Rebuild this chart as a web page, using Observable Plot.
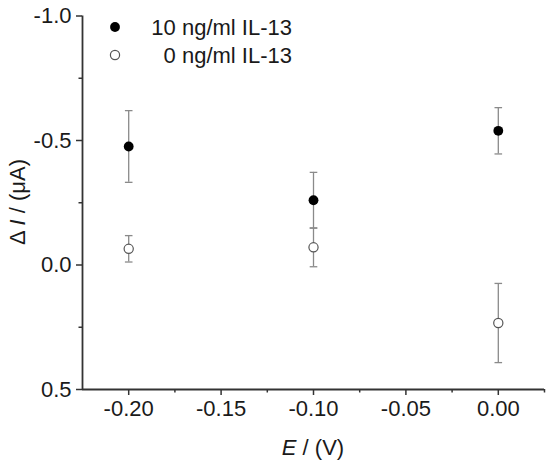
<!DOCTYPE html>
<html>
<head>
<meta charset="utf-8">
<script src="https://cdn.jsdelivr.net/npm/d3@7"></script>
<script src="https://cdn.jsdelivr.net/npm/@observablehq/plot@0.6"></script>
<style>
  body { margin: 0; background: #fff; }
  #chart { width: 550px; height: 466px; }
</style>
</head>
<body>
<div id="chart"></div>
<script>
// values
const potential = [-0.20, -0.10, 0.00];
const with10 = [-0.476, -0.260, -0.539];
const with10Err = [0.144, 0.112, 0.093];
const with0 = [-0.065, -0.071, 0.233];
const with0Err = [0.053, 0.078, 0.159];
const seriesNames = ["10 ng/ml IL-13", "0 ng/ml IL-13"];

const xTicks = [-0.20, -0.15, -0.10, -0.05, 0.00];
const xMinor = [-0.175, -0.125, -0.075, -0.025, 0.025];
const yTicks = [-1.0, -0.5, 0.0, 0.5];
const yMinor = [-0.75, -0.25, 0.25];
const xDomain = [-0.225, 0.025];
const yDomain = [-1.0, 0.5];

const rows = potential.flatMap((e, i) => [
  {E: e, v: with10[i], lo: with10[i] - with10Err[i], hi: with10[i] + with10Err[i], s: seriesNames[0]},
  {E: e, v: with0[i], lo: with0[i] - with0Err[i], hi: with0[i] + with0Err[i], s: seriesNames[1]}
]);
const filled = rows.filter(d => d.s === seriesNames[0]);
const open = rows.filter(d => d.s === seriesNames[1]);

// short horizontal bar for the error bar caps
const cap = {
  draw(ctx, size) {
    const r = Math.sqrt(size / Math.PI);
    ctx.moveTo(-r, 0);
    ctx.lineTo(r, 0);
  }
};

const axisColor = "#333";
const barColor = "#8a8a8a";

const plot = Plot.plot({
  width: 550,
  height: 466,
  marginTop: 15.5,
  marginBottom: 77,
  marginLeft: 82,
  marginRight: 6,
  style: {fontFamily: "'Liberation Sans', Arial, sans-serif", fontSize: "22px", color: "#1a1a1a", background: "#fff"},
  x: {domain: xDomain},
  y: {domain: yDomain, reverse: true},
  marks: [
    Plot.axisX({ticks: xTicks, tickFormat: d => d.toFixed(2), tickSize: 6, tickPadding: 5, strokeWidth: 1.5, stroke: axisColor, label: null, fontSize: 22}),
    Plot.axisX({ticks: xMinor, tickSize: 3.5, strokeWidth: 1.5, stroke: axisColor, text: null, label: null}),
    Plot.axisY({ticks: yTicks, tickFormat: d => d.toFixed(1), tickSize: 6, tickPadding: 5, strokeWidth: 1.5, stroke: axisColor, label: null, fontSize: 22}),
    Plot.axisY({ticks: yMinor, tickSize: 3.5, strokeWidth: 1.5, stroke: axisColor, text: null, label: null}),
    Plot.ruleX([xDomain[0]], {stroke: axisColor, strokeWidth: 1.8}),
    Plot.ruleY([yDomain[1]], {stroke: axisColor, strokeWidth: 1.8}),
    Plot.ruleX(rows, {x: "E", y1: "lo", y2: "hi", stroke: barColor, strokeWidth: 1.3}),
    Plot.dot(rows, {x: "E", y: "lo", symbol: cap, r: 3.8, stroke: barColor, strokeWidth: 1.3}),
    Plot.dot(rows, {x: "E", y: "hi", symbol: cap, r: 3.8, stroke: barColor, strokeWidth: 1.3}),
    Plot.dot(open, {x: "E", y: "v", r: 4.6, fill: "#fff", stroke: "#555", strokeWidth: 1.2}),
    Plot.dot(filled, {x: "E", y: "v", r: 4.9, fill: "#000", stroke: "none"})
  ]
});

const svg = d3.select(plot);
const font = "'Liberation Sans', Arial, sans-serif";

// y axis title with italic I
const yt = svg.append("text")
  .attr("transform", "translate(25,202) rotate(-90)")
  .attr("text-anchor", "middle")
  .attr("font-family", font).attr("font-size", 22).attr("fill", "#1a1a1a");
yt.append("tspan").text("\u0394 ");
yt.append("tspan").attr("font-style", "italic").text("I");
yt.append("tspan").text(" / (\u03bcA)");

// x axis title with italic E
const xt = svg.append("text")
  .attr("x", 313).attr("y", 455)
  .attr("text-anchor", "middle")
  .attr("font-family", font).attr("font-size", 22).attr("fill", "#1a1a1a");
xt.append("tspan").attr("font-style", "italic").text("E");
xt.append("tspan").text(" / (V)");

// legend
const lg = svg.append("g").attr("font-family", font).attr("font-size", 22).attr("fill", "#1a1a1a");
lg.append("circle").attr("cx", 115).attr("cy", 27).attr("r", 4.9).attr("fill", "#000");
lg.append("circle").attr("cx", 115).attr("cy", 55).attr("r", 4.6).attr("fill", "#fff").attr("stroke", "#555").attr("stroke-width", 1.2);
lg.append("text").attr("x", 292).attr("y", 35).attr("text-anchor", "end").text(seriesNames[0]);
lg.append("text").attr("x", 292).attr("y", 63).attr("text-anchor", "end").text(seriesNames[1]);

document.querySelector("#chart").append(plot);
</script>
</body>
</html>
